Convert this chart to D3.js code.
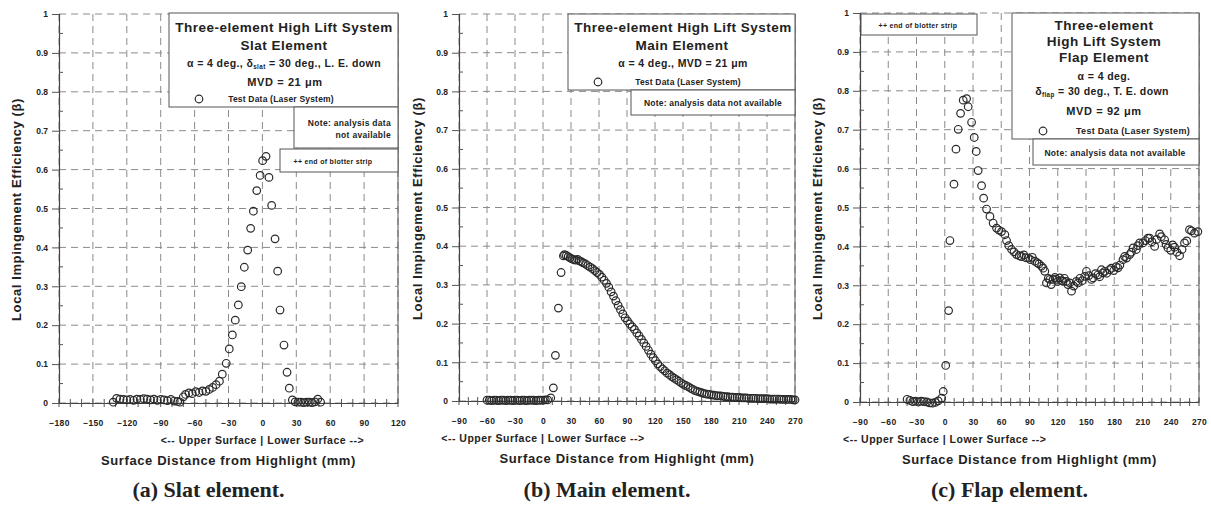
<!DOCTYPE html>
<html>
<head>
<meta charset="utf-8">
<script src="https://cdn.jsdelivr.net/npm/d3@7"></script>
<style>
  body { margin: 0; background: #fff; }
  svg text { font-family: "Liberation Sans", Arial, sans-serif; font-weight: bold; fill: #222; }
  .caption { font-family: "Liberation Serif", "Times New Roman", serif; }
</style>
</head>
<body>
<svg id="chart" width="1211" height="513"></svg>
<script>
var slatPoints = [
  [-132,0.002],[-129,0.012],[-126,0.010],[-123,0.009],[-120,0.008],[-117,0.009],[-114,0.007],
  [-111,0.010],[-108,0.009],[-105,0.011],[-102,0.010],[-99,0.008],[-96,0.010],[-93,0.007],
  [-90,0.009],[-87,0.008],[-84,0.006],[-81,0.009],[-78,0.005],[-75,0.004],[-73,0.002],
  [-70,0.016],[-68,0.022],[-65,0.026],[-62,0.024],[-59,0.029],[-56,0.027],[-53,0.031],
  [-50,0.030],[-47,0.035],[-44,0.040],[-41,0.047],[-38,0.056],[-35.5,0.074],[-32,0.102],
  [-29.3,0.139],[-26.6,0.175],[-24,0.213],[-21.3,0.252],[-18.7,0.299],[-16,0.349],[-13,0.393],
  [-10.4,0.449],[-8,0.493],[-5,0.546],[-2,0.585],[0.2,0.623],[3.2,0.634],
  [5.8,0.580],[8.2,0.508],[11.2,0.422],[13.5,0.339],[15.6,0.239],[19.1,0.149],[21.8,0.079],
  [23.8,0.038],[26.5,0.008],[29,0.003],[31.5,0.002],[34,0.002],[36.5,0.001],[39,0.002],
  [41.5,0.002],[44,0.001],[46.5,0.003],[49,0.010],[51.5,0.002]
];

var mainPoints = [
  [-60,0.002],[-57.5,0.002],[-55,0.001],[-52.5,0.002],[-50,0.002],[-47.5,0.001],[-45,0.002],
  [-42.5,0.002],[-40,0.001],[-37.5,0.002],[-35,0.002],[-32.5,0.001],[-30,0.002],[-27.5,0.002],
  [-25,0.001],[-22.5,0.002],[-20,0.002],[-17.5,0.001],[-15,0.002],[-12.5,0.002],[-10,0.002],
  [-7.5,0.001],[-5,0.002],[-2.5,0.002],[0,0.002],[2.5,0.003],[5,0.003],
  [8.3,0.008],[11.1,0.034],[13.3,0.118],[16.5,0.240],[19.4,0.332],[21.9,0.375],
  [23,0.378],[25,0.376],[27,0.373],[29,0.370],[31,0.367],[33,0.365],[35,0.364],[37,0.366],
  [39,0.362],[41,0.360],[43,0.357],[45.5,0.354],[48,0.350],[50.5,0.346],[53,0.342],[55.5,0.337],
  [58,0.332],[60.5,0.327],[63,0.320],[65.5,0.312],[68,0.304],[70.5,0.294],[73,0.282],[75.5,0.271],
  [78,0.259],[80.5,0.247],[83,0.236],[85.5,0.225],[88,0.215],[90.5,0.207],[93,0.199],[95.5,0.192],
  [98,0.185],[100.5,0.176],[103,0.168],[105.5,0.159],[108,0.150],[110.5,0.141],[113,0.131],
  [115.5,0.121],[118,0.112],[120.5,0.104],[123,0.096],[125.5,0.089],[128,0.083],[130.5,0.078],
  [133,0.072],[135.5,0.068],[138,0.063],[140.5,0.059],[143,0.055],[145.5,0.051],[148,0.047],
  [150.5,0.043],[153,0.040],[155.5,0.037],[158,0.033],[160.5,0.030],[163,0.027],[165.5,0.025],
  [168,0.023],[170.5,0.021],[173,0.019],[175.5,0.018],[178,0.017],[180.5,0.016],[183,0.015],
  [185.5,0.014],[188,0.013],[190.5,0.013],[193,0.012],[195.5,0.011],[198,0.011],[200.5,0.010],
  [203,0.010],[205.5,0.009],[208,0.009],[210.5,0.009],[213,0.008],[215.5,0.008],[218,0.008],
  [220.5,0.007],[223,0.007],[225.5,0.007],[228,0.007],[230.5,0.006],[233,0.006],[235.5,0.006],
  [238,0.006],[240.5,0.006],[243,0.005],[245.5,0.005],[248,0.005],[250.5,0.005],[253,0.005],
  [255.5,0.004],[258,0.004],[260.5,0.004],[263,0.004],[265.5,0.004],[268,0.003],[270,0.003]
];

var flapPoints = [
  [-40,0.007],[-37,0.004],[-34,0.001],[-31,0.002],[-28,0.000],[-25,0.002],[-22,0.001],
  [-19,0.000],[-16,-0.002],[-13,-0.003],[-10,-0.001],[-7,0.003],[-3.3,0.010],[-1.6,0.027],
  [1,0.094],[4.1,0.235],[5.5,0.415],[9.8,0.560],[11.9,0.650],[14.3,0.701],[16.8,0.742],
  [19.6,0.776],[23.2,0.780],[24.9,0.759],[28.5,0.719],[31.3,0.680],[33.4,0.644],[35.5,0.595],
  [39.1,0.556],[41.3,0.524],[44.4,0.496],[48,0.477],[51.4,0.460],[55,0.447],[57.5,0.442],
  [60.3,0.438],[63.8,0.430],[65.6,0.415],[68,0.402],[71,0.392],[73.5,0.386],[76.2,0.379],
  [79,0.376],[81.5,0.374],[84,0.378],[86,0.371],[88.6,0.370],[91,0.366],[93,0.372],[95.6,0.362],
  [98,0.358],[100,0.355],[102.7,0.349],[104.5,0.344],[106.3,0.336],[108,0.306],[110,0.318],
  [111.6,0.315],[113,0.302],[115,0.315],[117,0.320],[118.7,0.315],[120,0.310],[122,0.319],
  [124,0.312],[125.7,0.310],[127,0.318],[129,0.310],[130.8,0.302],[132.8,0.306],[134.6,0.285],
  [137,0.298],[139.8,0.310],[141.6,0.306],[143.5,0.318],[146,0.312],[148.7,0.323],[150.5,0.336],
  [153,0.325],[155.8,0.315],[157.5,0.319],[160,0.330],[162.8,0.327],[164.5,0.322],[166.4,0.340],
  [168,0.332],[169.9,0.336],[172,0.331],[175,0.340],[177,0.344],[179.5,0.338],[182,0.348],
  [184,0.345],[186,0.352],[189.3,0.366],[191,0.374],[193,0.370],[196.4,0.379],[198.2,0.385],
  [200,0.396],[203.5,0.392],[205,0.402],[207,0.409],[210.5,0.409],[213,0.415],[215.8,0.421],
  [217.6,0.421],[220,0.412],[222.9,0.400],[225,0.418],[228.2,0.432],[230,0.425],[233.5,0.417],
  [235,0.405],[237,0.396],[240,0.390],[242,0.404],[244,0.398],[246.5,0.385],[249.4,0.376],
  [252,0.392],[254.6,0.409],[257,0.414],[259.9,0.443],[262,0.440],[265.2,0.434],[268.8,0.438]
];

var slatTicks = [-180,-150,-120,-90,-60,-30,0,30,60,90,120];
var wideTicks = [-90,-60,-30,0,30,60,90,120,150,180,210,240,270];
var betaTicks = [0,0.1,0.2,0.3,0.4,0.5,0.6,0.7,0.8,0.9,1];
var captions = ['(a) Slat element.', '(b) Main element.', '(c) Flap element.'];

var svg = d3.select('#chart');

var panels = [
  { left: 59,  right: 398,  top: 14, bottom: 403, domain: [-180, 120], ticks: slatTicks, points: slatPoints, yTitleX: 17,  caption: captions[0] },
  { left: 459, right: 795,  top: 14, bottom: 401, domain: [-90, 270],  ticks: wideTicks, points: mainPoints, yTitleX: 418, caption: captions[1] },
  { left: 860, right: 1199, top: 13, bottom: 402, domain: [-90, 270],  ticks: wideTicks, points: flapPoints, yTitleX: 818, caption: captions[2] }
];

var label = function (g, x, y, text, size, anchor, spacing) {
  return g.append('text')
    .attr('x', x).attr('y', y)
    .attr('font-size', size)
    .attr('text-anchor', anchor || 'middle')
    .attr('letter-spacing', spacing || 0)
    .text(text);
};

var box = function (g, x, y, w, h) {
  return g.append('rect')
    .attr('x', x).attr('y', y).attr('width', w).attr('height', h)
    .attr('fill', '#fff').attr('stroke', '#555').attr('stroke-width', 1);
};

// line with a "δ" carrying a small subscript
var deltaLine = function (g, x, y, before, sub, rest, size) {
  var t = g.append('text').attr('x', x).attr('y', y).attr('font-size', size)
    .attr('text-anchor', 'middle').attr('letter-spacing', 0.4);
  t.append('tspan').text(before + 'δ');
  t.append('tspan').attr('font-size', size * 0.6).attr('dy', 2).text(sub);
  t.append('tspan').attr('dy', -2).text(rest);
  return t;
};

var marker = function (g, cx, cy) {
  return g.append('circle').attr('cx', cx).attr('cy', cy).attr('r', 3.8)
    .attr('fill', 'none').attr('stroke', '#2a2a2a').attr('stroke-width', 1.2);
};

var drawPanel = function (p) {
  var g = svg.append('g');
  var x = d3.scaleLinear().domain(p.domain).range([p.left, p.right]);
  var y = d3.scaleLinear().domain([0, 1]).range([p.bottom, p.top]);

  // dashed grid
  g.selectAll('line.vgrid').data(p.ticks).enter().append('line')
    .attr('x1', function (d) { return x(d); }).attr('x2', function (d) { return x(d); })
    .attr('y1', p.top).attr('y2', p.bottom)
    .attr('stroke', '#8a8a8a').attr('stroke-dasharray', '7,5');
  g.selectAll('line.hgrid').data(betaTicks).enter().append('line')
    .attr('x1', p.left).attr('x2', p.right)
    .attr('y1', function (d) { return y(d); }).attr('y2', function (d) { return y(d); })
    .attr('stroke', '#8a8a8a').attr('stroke-dasharray', '7,5');

  // right border
  g.append('line').attr('x1', p.right).attr('x2', p.right).attr('y1', p.top).attr('y2', p.bottom)
    .attr('stroke', '#555');

  // axes
  var minorX = d3.range(p.domain[0], p.domain[1] + 1, 10);
  var xAxis = d3.axisBottom(x).tickValues(p.ticks).tickSize(0).tickPadding(17).tickFormat(d3.format('d'));
  var ax = g.append('g').attr('transform', 'translate(0,' + p.bottom + ')').call(xAxis);
  ax.select('.domain').attr('stroke', '#444').attr('stroke-width', 1.2);
  ax.selectAll('text').attr('font-size', 8.5).attr('fill', '#222').attr('letter-spacing', 0.3);
  g.selectAll('line.xminor').data(minorX).enter().append('line')
    .attr('x1', function (d) { return x(d); }).attr('x2', function (d) { return x(d); })
    .attr('y1', p.bottom - 4).attr('y2', p.bottom + 4)
    .attr('stroke', '#555');

  var yAxis = d3.axisLeft(y).tickValues(betaTicks).tickSize(7).tickPadding(4)
    .tickFormat(function (d) { return d === 0 || d === 1 ? d3.format('d')(d) : d3.format('.1f')(d); });
  var ay = g.append('g').attr('transform', 'translate(' + p.left + ',0)').call(yAxis);
  ay.select('.domain').attr('stroke', '#444').attr('stroke-width', 1.2);
  ay.selectAll('.tick line').attr('stroke', '#555');
  ay.selectAll('text').attr('font-size', 8.5).attr('fill', '#222');
  g.selectAll('line.yminor').data(betaTicks.slice(0, -1)).enter().append('line')
    .attr('x1', p.left).attr('x2', p.left + 4)
    .attr('y1', function (d) { return y(d + 0.05); }).attr('y2', function (d) { return y(d + 0.05); })
    .attr('stroke', '#555');

  // data
  g.selectAll('circle.pt').data(p.points).enter().append('circle')
    .attr('cx', function (d) { return x(d[0]); })
    .attr('cy', function (d) { return y(d[1]); })
    .attr('r', 3.8)
    .attr('fill', 'none').attr('stroke', '#2a2a2a').attr('stroke-width', 1.2);

  // axis titles
  label(g, x(0), p.bottom + 41, '<-- Upper Surface  |  Lower Surface -->', 10.5, 'middle', 0.5);
  label(g, (p.left + p.right) / 2, p.bottom + 62, 'Surface Distance from Highlight (mm)', 13, 'middle', 0.6);
  g.append('text')
    .attr('transform', 'translate(' + (p.yTitleX + 4) + ',' + ((p.top + p.bottom) / 2 + 1) + ') rotate(-90)')
    .attr('font-size', 13).attr('text-anchor', 'middle').attr('letter-spacing', 0.6)
    .text('Local Impingement Efficiency (β)');

  label(g, (p.left + p.right) / 2 - 20, 497, p.caption, 22).attr('class', 'caption');
  return g;
};

var gs = panels.map(drawPanel);

// panel (a) legend and notes
var a = gs[0];
box(a, 169, 13, 229, 94);
label(a, 284, 32, 'Three-element High Lift System', 13.5, 'middle', 0.5);
label(a, 284, 50, 'Slat Element', 13.5, 'middle', 0.5);
deltaLine(a, 284, 67, 'α = 4 deg., ', 'slat', ' = 30 deg., L. E. down', 10.5);
label(a, 285, 86, 'MVD = 21 μm', 11, 'middle', 0.6);
marker(a, 199, 99);
label(a, 281, 102, 'Test Data (Laser System)', 8.5, 'middle', 0.2);
box(a, 294, 107, 104, 41);
label(a, 391, 126, 'Note: analysis data', 8.5, 'end', 0.3);
label(a, 391, 138, 'not available', 8.5, 'end', 0.3);
box(a, 280, 149, 118, 23);
label(a, 333, 164, '++ end of blotter strip', 7, 'middle', 0.3);

// panel (b) legend and note
var b = gs[1];
box(b, 568, 14, 227, 76);
label(b, 683, 32, 'Three-element High Lift System', 13.5, 'middle', 0.5);
label(b, 682, 50, 'Main Element', 13.5, 'middle', 0.5);
label(b, 683, 67, 'α = 4 deg., MVD = 21 μm', 10.5, 'middle', 0.4);
marker(b, 598, 82);
label(b, 688, 85, 'Test Data (Laser System)', 8.5, 'middle', 0.2);
box(b, 631, 90, 164, 25);
label(b, 713, 106, 'Note: analysis data not available', 8.5, 'middle', 0.2);

// panel (c) legend and notes
var c = gs[2];
box(c, 861, 14, 116, 21);
label(c, 918, 28, '++ end of blotter strip', 7, 'middle', 0.3);
box(c, 1012, 13, 187, 126);
label(c, 1104, 30, 'Three-element', 13.5, 'middle', 0.5);
label(c, 1104, 46, 'High Lift System', 13.5, 'middle', 0.5);
label(c, 1104, 62, 'Flap Element', 13.5, 'middle', 0.5);
label(c, 1104, 80, 'α = 4 deg.', 10.5, 'middle', 0.4);
deltaLine(c, 1102, 95, '', 'flap', ' = 30 deg., T. E. down', 10.5);
label(c, 1104, 115, 'MVD = 92 μm', 11, 'middle', 0.6);
marker(c, 1043, 131);
label(c, 1133, 134, 'Test Data (Laser System)', 9, 'middle', 0.3);
box(c, 1033, 139, 166, 26);
label(c, 1115, 156, 'Note: analysis data not available', 8.5, 'middle', 0.3);
</script>
</body>
</html>
